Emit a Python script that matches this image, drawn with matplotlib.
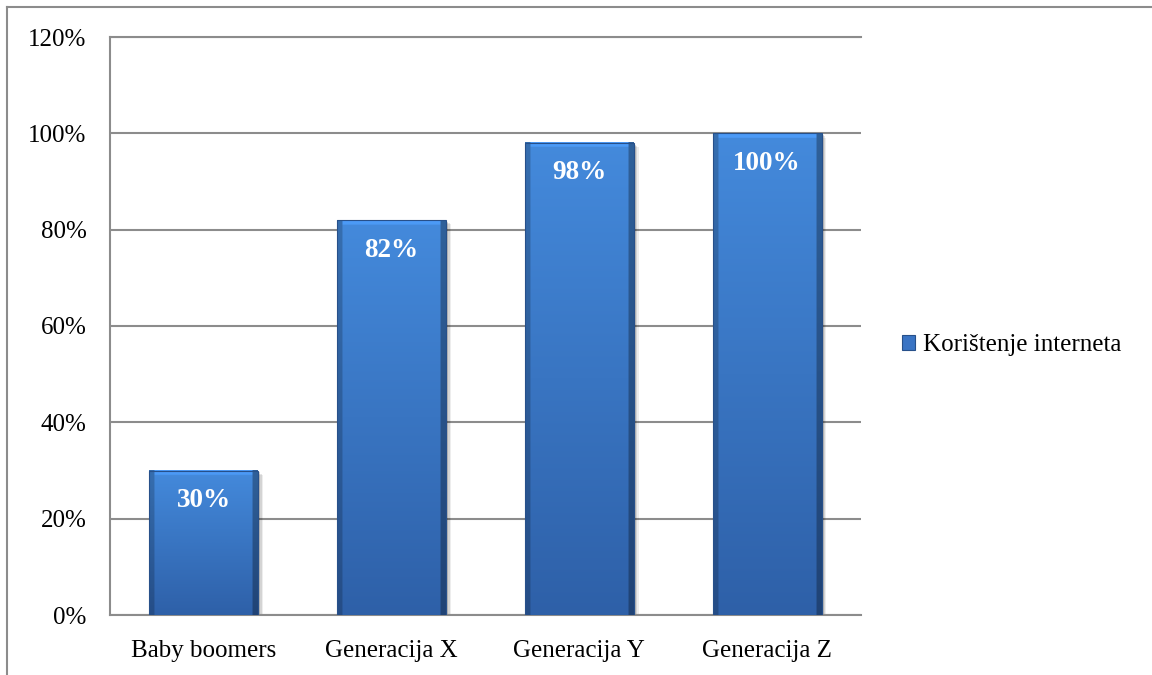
import numpy as np
import matplotlib
matplotlib.use("Agg")
import matplotlib.pyplot as plt
import matplotlib.transforms as mtransforms
from matplotlib.patches import Rectangle
from matplotlib.lines import Line2D

categories = ["Baby boomers", "Generacija X", "Generacija Y", "Generacija Z"]
values = [30, 82, 98, 100]
series_name = "Korištenje interneta"
yticks = [0, 20, 40, 60, 80, 100, 120]

plt.rcParams['font.family'] = ['Liberation Serif', 'DejaVu Serif']

fig = plt.figure(figsize=(11.52, 6.75), dpi=100)
ax = fig.add_axes([110 / 1152, 1 - 615 / 675, (861 - 110) / 1152, (615 - 37) / 675])

# outer chart border (only top and left visible in the crop)
fig.add_artist(Line2D([7 / 1152, 7 / 1152], [0, 1 - 7 / 675], transform=fig.transFigure,
                      color="#8c8c8c", lw=1.5))
fig.add_artist(Line2D([7 / 1152, 1], [1 - 7 / 675, 1 - 7 / 675], transform=fig.transFigure,
                      color="#8c8c8c", lw=1.5))

x = np.arange(len(categories))
bars = ax.bar(x, values, width=0.58, color="#3a74c4", zorder=3)
ax.set_xlim(-0.5, len(categories) - 0.5)
ax.set_ylim(0, 120)

# drop shadow
for b in bars:
    for k, a in zip([7, 5, 3], [0.07, 0.10, 0.15]):
        off = mtransforms.offset_copy(ax.transData, fig=fig, x=k * 0.7, y=-k * 0.6, units="dots")
        sh = Rectangle((b.get_x(), 0), b.get_width(), b.get_height(), transform=off,
                       color="black", alpha=a, lw=0, zorder=2)
        ax.add_patch(sh)

# gradient / bevel fill
top_c = np.array([68, 138, 220]) / 255
bot_c = np.array([46, 96, 168]) / 255
for b in bars:
    h, w = 600, 60
    t = np.linspace(0, 1, h)[:, None, None]
    img = top_c * (1 - t) + bot_c * t
    img = np.repeat(img, w, axis=1)
    edge = max(2, int(w * 0.06))
    img[:, :edge] *= 0.8
    img[:, -edge:] *= 0.7
    bar_px = abs(ax.transData.transform((0, b.get_height()))[1] - ax.transData.transform((0, 0))[1])
    top_band = max(2, int(h * 5 / bar_px))
    img[:top_band, edge:-edge] = np.minimum(img[:top_band, edge:-edge] * 1.12, 1)
    ax.imshow(img, extent=(b.get_x(), b.get_x() + b.get_width(), 0, b.get_height()),
              aspect="auto", zorder=3, clip_path=b, clip_on=True, interpolation="bilinear")
    b.set_edgecolor("#27508a")
    b.set_linewidth(0.8)
    b.set_facecolor("none")
    b.set_zorder(4)

for xi, v in zip(x, values):
    off = mtransforms.offset_copy(ax.transData, fig=fig, x=0, y=-30, units="dots")
    ax.text(xi, v, f"{v}%", transform=off, ha="center", va="center", color="white",
            fontsize=19.5, fontweight="bold", zorder=5)

ax.set_xlim(-0.5, len(categories) - 0.5)
ax.set_ylim(0, 120)
ax.set_yticks(yticks)
ax.set_yticklabels([f"{t}%" for t in yticks])
ax.set_xticks(x)
ax.set_xticklabels(categories)
ax.tick_params(axis="y", length=0, pad=17, labelsize=18)
ax.tick_params(axis="x", length=0, pad=18, labelsize=18)
ax.yaxis.grid(True, color="#8c8c8c", lw=1.5, zorder=1)
ax.set_axisbelow(True)
ax.spines["right"].set_visible(False)
for s in ["left", "top", "bottom"]:
    ax.spines[s].set_color("#8c8c8c")
    ax.spines[s].set_linewidth(1.5)

# legend marker and text
leg_handle = Rectangle((0, 0), 1, 1, facecolor="#3a74c4", edgecolor="#27508a", lw=0.8)
ax.legend([leg_handle], [series_name], loc="center left", bbox_to_anchor=(1.054, 0.467),
          frameon=False, fontsize=18, handlelength=0.55, handleheight=0.55, handletextpad=0.3,
          borderaxespad=0, borderpad=0)

fig.savefig("out.png", dpi=100)
